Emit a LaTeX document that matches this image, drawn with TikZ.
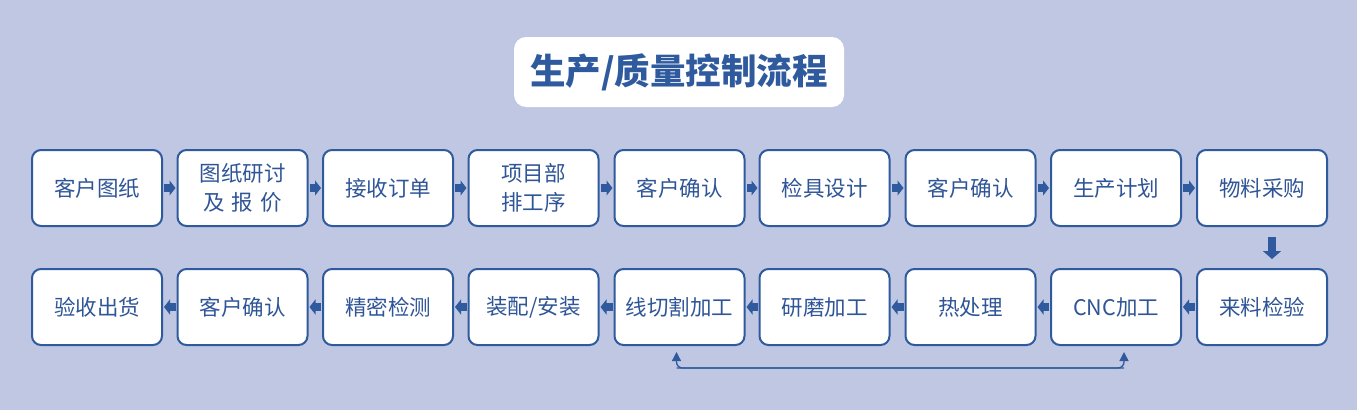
\documentclass[tikz,border=0pt]{standalone}
\usepackage{fontspec}
\setmainfont{Noto Sans CJK SC}
\newfontfamily\cjk{Noto Sans CJK SC}
\usetikzlibrary{arrows.meta,positioning}
\definecolor{bg}{HTML}{C0C7E3}
\definecolor{mblue}{HTML}{2F5A9E}
\definecolor{tblue}{HTML}{2F5597}
\tikzset{
  stepbox/.style={draw=mblue, line width=2pt, fill=white, rounded corners=9pt,
    minimum width=130pt, minimum height=76pt, inner sep=0pt, align=center,
    text=tblue, font=\cjk\fontsize{21.5pt}{29pt}\selectfont},
  blk/.style={draw=mblue, line width=8pt, -{Triangle[length=6pt,width=15pt]}},
  thin/.style={draw=mblue, line width=1.3pt, rounded corners=6pt, -{Triangle[length=9pt,width=9pt]}},
}
\begin{document}
\begin{tikzpicture}[x=1pt,y=-1pt]
\fill[bg] (0,0) rectangle (1357,410);
\useasboundingbox (0,0) rectangle (1357,410);
\node[fill=white, rounded corners=12pt, minimum width=330pt, minimum height=70pt, inner sep=0pt,
  text=mblue, font=\cjk\bfseries\fontsize{35.5pt}{40pt}\selectfont] (title) at (679,72) {生产/质量控制流程};
% row 1
\node[stepbox] (a1) at (97,188) {客户图纸};
\node[stepbox] (a2) at (242.5,188) {图纸研讨\\及\,\,报\,\,价};
\node[stepbox] (a3) at (388,188) {接收订单};
\node[stepbox] (a4) at (533.5,188) {项目部\\排工序};
\node[stepbox] (a5) at (679.5,188) {客户确认};
\node[stepbox] (a6) at (824.5,188) {检具设计};
\node[stepbox] (a7) at (970.5,188) {客户确认};
\node[stepbox] (a8) at (1116,188) {生产计划};
\node[stepbox] (a9) at (1262,188) {物料采购};
% row 2
\node[stepbox] (b9) at (1262,307) {来料检验};
\node[stepbox] (b8) at (1116,307) {CNC加工};
\node[stepbox] (b7) at (970.5,307) {热处理};
\node[stepbox] (b6) at (824.5,307) {研磨加工};
\node[stepbox] (b5) at (679.5,307) {线切割加工};
\node[stepbox] (b4) at (533.5,307) {装配/安装};
\node[stepbox] (b3) at (388,307) {精密检测};
\node[stepbox] (b2) at (242.5,307) {客户确认};
\node[stepbox] (b1) at (97,307) {验收出货};
% arrows row 1
\foreach \p/\q in {a1/a2,a2/a3,a3/a4,a4/a5,a5/a6,a6/a7,a7/a8,a8/a9}
  \draw[blk] ([xshift=1pt]\p.east) -- ([xshift=-1pt]\q.west);
% arrows row 2
\foreach \p/\q in {b9/b8,b8/b7,b7/b6,b6/b5,b5/b4,b4/b3,b3/b2,b2/b1}
  \draw[blk] ([xshift=-1pt]\p.west) -- ([xshift=1pt]\q.east);
% down arrow
\draw[draw=mblue, line width=8pt, -{Triangle[length=8pt,width=18pt]}]
  ([xshift=10pt,yshift=-10pt]a9.south) -- ([xshift=10pt,yshift=9pt]b9.north);
% bottom loop
\coordinate (l1) at ([xshift=-3pt,yshift=-22pt]b5.south);
\coordinate (r1) at ([xshift=8pt,yshift=-22pt]b8.south);
\draw[thin] (l1) -- ([xshift=8pt]l1 -| b8.south) -- ([xshift=8pt,yshift=-6pt]b8.south);
\draw[thin] ([xshift=8pt]l1 -| b8.south) -- (l1) -- ([xshift=-3pt,yshift=-6pt]b5.south);
\end{tikzpicture}
\end{document}
